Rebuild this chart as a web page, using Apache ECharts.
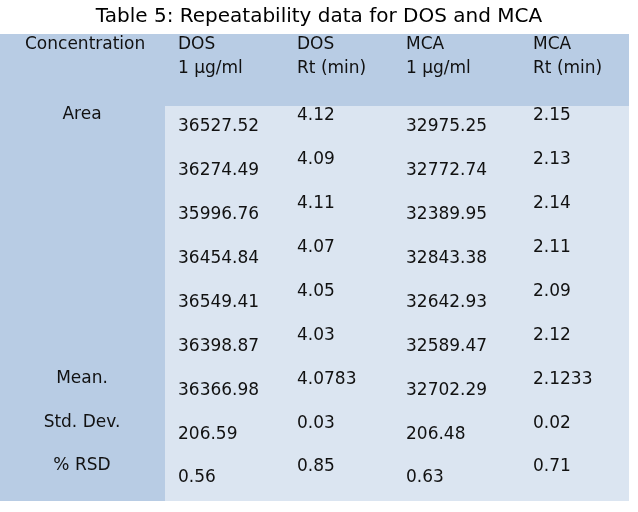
<!DOCTYPE html>
<html>
<head>
<meta charset="utf-8">
<script src="https://cdn.jsdelivr.net/npm/echarts@6/dist/echarts.min.js"></script>
<style>html,body{margin:0;padding:0;background:#fff}#c{width:638px;height:512px}</style>
</head>
<body>
<div id="c"></div>
<script>
// ---- data ----
var titleText = 'Table 5: Repeatability data for DOS and MCA';
var cornerLabel = 'Concentration';
var headerTop = ['DOS', 'DOS', 'MCA', 'MCA'];
var headerBottom = ['1 µg/ml', 'Rt (min)', '1 µg/ml', 'Rt (min)'];
var rowLabels = ['Area', '', '', '', '', '', 'Mean.', 'Std. Dev.', '% RSD'];
var dosArea = ['36527.52', '36274.49', '35996.76', '36454.84', '36549.41', '36398.87', '36366.98', '206.59', '0.56'];
var dosRt   = ['4.12', '4.09', '4.11', '4.07', '4.05', '4.03', '4.0783', '0.03', '0.85'];
var mcaArea = ['32975.25', '32772.74', '32389.95', '32843.38', '32642.93', '32589.47', '32702.29', '206.48', '0.63'];
var mcaRt   = ['2.15', '2.13', '2.14', '2.11', '2.09', '2.12', '2.1233', '0.02', '0.71'];
var columns = [dosArea, dosRt, mcaArea, mcaRt];

// ---- style / layout ----
var FONT = 'DejaVu Sans';
var DARK = '#B8CCE4', LIGHT = '#DBE5F1', TXT = '#111111';
var colPad = [13, 16, 9, 20];     // left padding of text within each column
var colDy  = [-1, -12, -1, -12];  // vertical shift of cell text
var halfBand = 58;

var colIdx = headerTop.map(function (_, i) { return i; });

function textLabel(dx, dy, extra) {
  var l = {
    show: true, position: 'inside', align: 'left', verticalAlign: 'middle',
    offset: [dx, dy],
    formatter: function (p) { return p.value[2]; },
    fontFamily: FONT, fontSize: 17, color: TXT, opacity: 1,
    textBorderWidth: 0, textBorderColor: 'transparent', textShadowBlur: 0
  };
  return Object.assign(l, extra || {});
}

var series = [];
columns.forEach(function (col, c) {
  series.push({
    type: 'scatter', xAxisIndex: 2, yAxisIndex: 2,
    symbolSize: 0, itemStyle: { color: TXT, opacity: 1 }, silent: true,
    data: col.map(function (v, r) { return [c, r, v]; }),
    label: textLabel(colPad[c] - halfBand, colDy[c])
  });
  series.push({
    type: 'scatter', xAxisIndex: 1, yAxisIndex: 1,
    symbolSize: 0, itemStyle: { color: TXT, opacity: 1 }, silent: true,
    data: [[c, 0, headerTop[c] + '\n' + headerBottom[c]]],
    label: textLabel(colPad[c] - halfBand, -13, { lineHeight: 24 })
  });
});

var hiddenAxis = { axisLine: { show: false }, axisTick: { show: false }, splitLine: { show: false } };

var option = {
  animation: false,
  backgroundColor: '#ffffff',
  title: {
    text: titleText, left: 'center', top: 2,
    textStyle: { fontFamily: FONT, fontSize: 20, fontWeight: 'normal', color: '#000' }
  },
  grid: [
    { left: 0, right: 9, top: 34, bottom: 11, show: true, backgroundColor: DARK, borderWidth: 0 },
    { left: 165, right: 9, top: 34, height: 72, show: false },
    { left: 165, right: 9, top: 106, bottom: 11, show: true, backgroundColor: LIGHT, borderWidth: 0 }
  ],
  xAxis: [
    Object.assign({ gridIndex: 0, type: 'value', show: false }, hiddenAxis),
    Object.assign({ gridIndex: 1, type: 'category', data: colIdx, axisLabel: { show: false } }, hiddenAxis),
    Object.assign({ gridIndex: 2, type: 'category', data: colIdx, axisLabel: { show: false } }, hiddenAxis)
  ],
  yAxis: [
    Object.assign({ gridIndex: 0, type: 'value', show: false }, hiddenAxis),
    Object.assign({ gridIndex: 1, type: 'category', data: [cornerLabel], inverse: true,
      axisLabel: { show: true, interval: 0, align: 'left', margin: 140,
        verticalAlign: 'bottom', lineHeight: 50,
        fontFamily: FONT, fontSize: 17, color: TXT } }, hiddenAxis),
    Object.assign({ gridIndex: 2, type: 'category', data: rowLabels, inverse: true,
      axisLabel: { show: true, interval: 0, align: 'center', margin: 83,
        verticalAlign: 'bottom', lineHeight: 26,
        fontFamily: FONT, fontSize: 17, color: TXT } }, hiddenAxis)
  ],
  series: series
};

var chart = echarts.init(document.getElementById('c'), null, { renderer: 'canvas' });
chart.setOption(option);
</script>
</body>
</html>
